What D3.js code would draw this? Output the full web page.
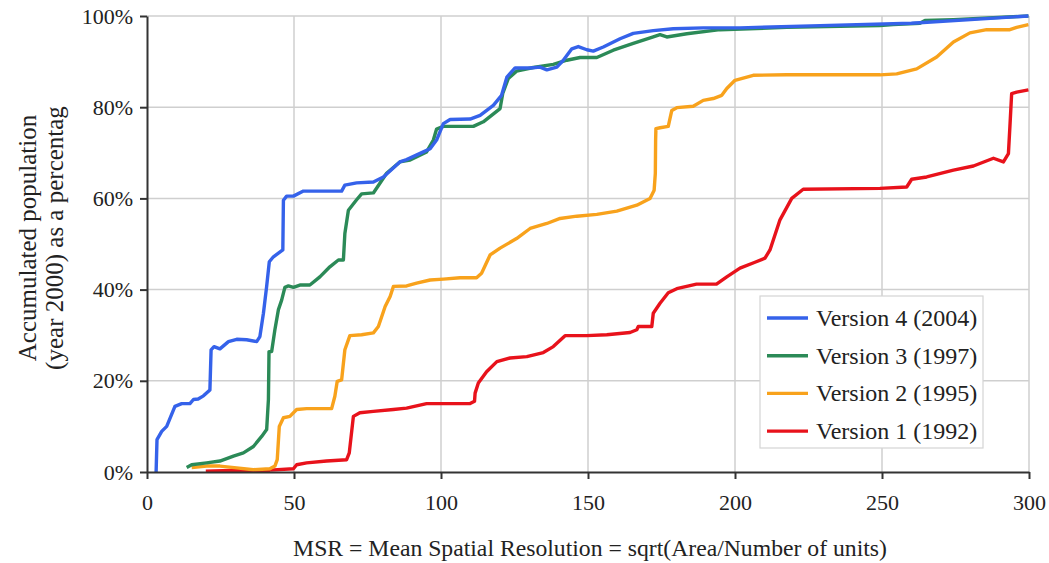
<!DOCTYPE html>
<html>
<head>
<meta charset="utf-8">
<script src="https://cdn.jsdelivr.net/npm/d3@7"></script>
<style>
    body { margin: 0; background: #fff; }
    .grid line { stroke: #cfcfcf; stroke-width: 1.5; }
    .axis path, .axis line { stroke: #333; stroke-width: 2; }
</style>
</head>
<body>
<div id="chart"></div>
<script>
// x = MSR, y = accumulated population (%)
let v4X = [3.1, 3.4, 5.0, 6.7, 9.5, 11.8, 14.6, 15.8, 17.4, 19.2, 21.4, 21.8, 22.8, 24.8, 27.7, 30.5, 33.9, 37.3, 38.4, 39.6, 40.7, 41.6, 43.0, 44.7, 46.2, 46.4, 47.5, 49.8, 53.2, 66.2, 67.3, 71.3, 77.0, 80.4, 86.0, 88.3, 94.0, 96.3, 98.5, 100.8, 103.1, 109.9, 113.3, 117.8, 120.6, 122.4, 125.2, 130.3, 133.7, 136.0, 139.4, 141.6, 144.5, 146.7, 149.6, 151.8, 155.2, 160.9, 165.4, 172.2, 179.0, 189.2, 201.7, 229.0, 260.0, 299.8];
let v4Y = [0, 7.1, 8.9, 10.0, 14.4, 15.0, 15.0, 15.9, 16.0, 16.7, 18.0, 26.8, 27.5, 27.0, 28.6, 29.1, 29.0, 28.6, 29.7, 34.8, 40.7, 46.1, 47.2, 48.0, 48.7, 59.6, 60.5, 60.5, 61.6, 61.6, 62.9, 63.4, 63.6, 64.7, 68.0, 68.5, 70.2, 70.9, 72.8, 76.4, 77.3, 77.4, 78.2, 80.4, 82.6, 86.6, 88.6, 88.6, 88.8, 88.2, 88.8, 90.3, 92.8, 93.3, 92.6, 92.3, 93.2, 95.0, 96.2, 96.8, 97.2, 97.4, 97.4, 97.9, 98.4, 100];

let v3X = [13.5, 15.2, 20.3, 24.8, 29.4, 32.8, 36.2, 39.0, 40.7, 41.3, 41.5, 42.4, 43.5, 44.7, 45.8, 46.9, 48.1, 49.8, 52.0, 55.4, 58.8, 62.2, 65.1, 66.8, 67.3, 68.5, 71.3, 73.0, 77.0, 81.5, 86.0, 89.5, 95.1, 97.4, 98.5, 100.8, 111.0, 114.4, 120.1, 121.0, 122.9, 125.7, 131.4, 138.2, 142.8, 147.3, 153.0, 158.6, 165.4, 172.2, 174.5, 176.8, 183.6, 194.9, 217.6, 249.3, 253.8, 262.9, 264.6, 274.3, 299.8];
let v3Y = [1.0, 1.6, 2.0, 2.4, 3.5, 4.2, 5.6, 7.8, 9.3, 15.9, 26.4, 26.4, 31.2, 35.6, 37.7, 40.5, 40.8, 40.5, 41.0, 41.0, 42.8, 45.0, 46.5, 46.5, 52.3, 57.4, 59.7, 61.0, 61.2, 65.5, 68.0, 68.4, 70.2, 72.8, 75.2, 75.8, 75.8, 76.8, 79.7, 83.0, 86.3, 87.9, 88.7, 89.4, 90.3, 90.9, 90.9, 92.5, 94.0, 95.4, 95.9, 95.4, 96.1, 97.0, 97.5, 97.9, 98.1, 98.4, 99.0, 99.2, 100];

let v2X = [15.2, 20.3, 24.8, 30.5, 36.2, 41.8, 43.5, 44.3, 45.0, 46.4, 48.6, 50.9, 54.3, 62.8, 63.9, 64.7, 66.2, 67.3, 69.0, 73.0, 77.0, 78.7, 81.0, 82.7, 83.8, 88.3, 91.7, 96.3, 100.8, 106.5, 112.1, 113.8, 116.7, 120.1, 125.7, 130.3, 136.0, 140.5, 146.2, 153.0, 159.8, 166.6, 171.1, 172.5, 172.9, 173.0, 173.1, 174.5, 177.3, 178.5, 180.2, 185.8, 189.2, 192.6, 195.5, 197.2, 200.0, 206.2, 217.6, 249.3, 255.0, 261.8, 268.6, 274.3, 279.9, 285.6, 293.5, 295.8, 299.8];
let v2Y = [1.0, 1.3, 1.3, 0.9, 0.5, 0.7, 1.3, 2.7, 10.0, 11.9, 12.2, 13.7, 13.9, 13.9, 16.6, 19.9, 20.2, 26.8, 29.9, 30.1, 30.5, 31.9, 36.3, 38.5, 40.7, 40.8, 41.4, 42.1, 42.3, 42.6, 42.6, 43.6, 47.6, 49.1, 51.2, 53.4, 54.5, 55.6, 56.1, 56.5, 57.2, 58.5, 60.0, 61.8, 65.5, 72.8, 75.3, 75.5, 75.8, 79.3, 79.9, 80.2, 81.5, 81.9, 82.6, 84.1, 85.9, 87.0, 87.1, 87.1, 87.3, 88.4, 91.0, 94.3, 96.3, 97.0, 97.0, 97.5, 98.1];

let v1X = [20.0, 31.6, 41.8, 49.8, 50.9, 54.3, 61.1, 67.9, 68.8, 70.2, 72.4, 77.0, 83.8, 88.3, 95.1, 109.9, 111.4, 111.6, 112.7, 115.5, 119.0, 123.5, 129.2, 134.8, 138.2, 142.2, 149.6, 156.4, 164.3, 166.6, 167.1, 171.7, 172.2, 174.5, 177.3, 180.2, 186.9, 193.7, 197.2, 201.7, 206.8, 210.2, 211.9, 215.3, 219.3, 223.2, 249.3, 258.4, 260.1, 265.2, 274.3, 281.1, 287.9, 291.3, 293.0, 293.5, 294.1, 295.8, 299.8];
let v1Y = [0.2, 0.4, 0.4, 0.7, 1.6, 2.0, 2.4, 2.7, 4.2, 12.2, 13.0, 13.3, 13.7, 14.0, 15.0, 15.0, 15.5, 17.3, 19.5, 22.0, 24.2, 25.0, 25.3, 26.2, 27.5, 29.9, 29.9, 30.1, 30.6, 31.2, 31.9, 31.9, 34.8, 37.0, 39.3, 40.2, 41.2, 41.2, 42.8, 44.7, 46.0, 46.9, 48.7, 55.3, 60.0, 62.0, 62.2, 62.5, 64.2, 64.7, 66.2, 67.1, 68.8, 68.0, 69.8, 75.7, 83.0, 83.3, 83.8];

let seriesNames = ["Version 4 (2004)", "Version 3 (1997)", "Version 2 (1995)", "Version 1 (1992)"];
let seriesColors = ["#3562ea", "#2b8a57", "#f8a21c", "#e8121b"];
let xTicks = [0, 50, 100, 150, 200, 250, 300];
let yTicks = [0, 20, 40, 60, 80, 100];

let serifFont = "'Times New Roman', 'Liberation Serif', 'DejaVu Serif', serif";
let width = 1049, height = 563;
let margin = {left: 147, right: 20, top: 16, bottom: 91};

let svg = d3.select("#chart").append("svg")
    .attr("width", width)
    .attr("height", height)
    .style("font-family", serifFont);

let x = d3.scaleLinear().domain([0, 300]).range([margin.left, width - margin.right]);
let y = d3.scaleLinear().domain([0, 100]).range([height - margin.bottom, margin.top]);

//grid
let grid = svg.append("g").attr("class", "grid");
grid.selectAll(".gx").data(xTicks.slice(1)).enter().append("line")
    .attr("x1", d => x(d)).attr("x2", d => x(d))
    .attr("y1", y(0)).attr("y2", y(100));
grid.selectAll(".gy").data(yTicks.slice(1)).enter().append("line")
    .attr("x1", x(0)).attr("x2", x(300))
    .attr("y1", d => y(d)).attr("y2", d => y(d));

//lines
let allX = [v4X, v3X, v2X, v1X], allY = [v4Y, v3Y, v2Y, v1Y];
let line = d3.line().x(d => x(d[0])).y(d => y(d[1])).curve(d3.curveLinear);
// draw red first so blue ends up on top
for (let i = 3; i >= 0; i--) {
    let pts = allX[i].map((v, j) => [v, allY[i][j]]);
    svg.append("path")
        .datum(pts)
        .attr("fill", "none")
        .attr("stroke", seriesColors[i])
        .attr("stroke-width", 3.4)
        .attr("stroke-linejoin", "round")
        .attr("d", line);
}

//axes
let xAxis = svg.append("g").attr("class", "axis")
    .attr("transform", "translate(0," + y(0) + ")")
    .call(d3.axisBottom(x).tickValues(xTicks).tickSize(7).tickSizeOuter(0).tickPadding(15));
let yAxis = svg.append("g").attr("class", "axis")
    .attr("transform", "translate(" + x(0) + ",0)")
    .call(d3.axisLeft(y).tickValues(yTicks).tickSize(7).tickSizeOuter(0).tickPadding(7).tickFormat(d => d + "%"));
svg.selectAll(".axis").attr("font-family", null).attr("font-size", null);
svg.selectAll(".axis text").style("font-family", serifFont).style("font-size", "22px").attr("fill", "#222");

//axis titles
svg.append("text")
    .attr("x", 590).attr("y", 556)
    .attr("text-anchor", "middle")
    .attr("fill", "#222")
    .style("font-size", "23.7px")
    .text("MSR = Mean Spatial Resolution = sqrt(Area/Number of units)");

let yTitle = svg.append("text")
    .attr("transform", "translate(0,238) rotate(-90)")
    .attr("text-anchor", "middle")
    .attr("fill", "#222")
    .style("font-size", "25px");
yTitle.append("tspan").attr("x", 0).attr("y", 36).text("Accumulated population");
yTitle.append("tspan").attr("x", 0).attr("y", 63).text("(year 2000) as a percentag");

//legend
let legend = svg.append("g").attr("transform", "translate(760,296)");
legend.append("rect")
    .attr("width", 223).attr("height", 152)
    .attr("fill", "#fff").attr("stroke", "#d4d4d4").attr("stroke-width", 1.2);
seriesNames.forEach((name, i) => {
    let row = legend.append("g").attr("transform", "translate(0," + (22 + i * 37.7) + ")");
    row.append("line")
        .attr("x1", 7).attr("x2", 48)
        .attr("stroke", seriesColors[i]).attr("stroke-width", 3.4);
    row.append("text")
        .attr("x", 56).attr("y", 8)
        .attr("fill", "#222")
        .style("font-size", "24px")
        .text(name);
});
</script>
</body>
</html>
